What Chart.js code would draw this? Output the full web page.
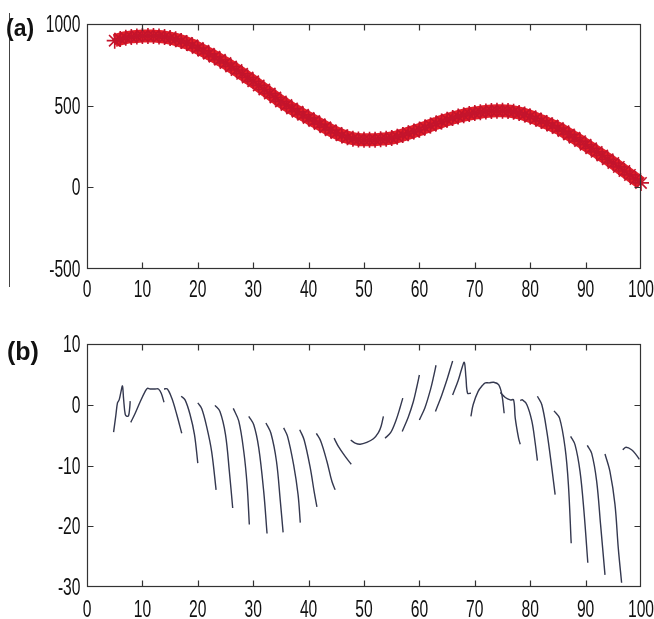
<!DOCTYPE html>
<html><head><meta charset="utf-8">
<script src="https://cdn.jsdelivr.net/npm/chart.js@4.4.1/dist/chart.umd.min.js"></script>
<style>
html,body{margin:0;padding:0;background:#fff;width:654px;height:619px;overflow:hidden;position:relative;}
#ca{position:absolute;left:0;top:0;}
#cb{position:absolute;left:0;top:320px;}
.lab{position:absolute;font-family:"Liberation Sans",Arial,sans-serif;font-weight:bold;line-height:1;color:#111;}
#vline{position:absolute;left:9px;top:13px;width:1px;height:274px;background:#444;}
</style></head><body>
<div id="vline"></div>
<canvas id="ca" width="654" height="310"></canvas>
<canvas id="cb" width="654" height="299"></canvas>
<div class="lab" style="left:6px;top:17px;font-size:23px">(a)</div>
<div class="lab" style="left:7px;top:339px;font-size:25px">(b)</div>
<script>
// ---------- Panel (a): estimated trajectory ----------
const xA = [5,6,7,8,9,10,11,12,13,14,15,16,17,18,19,20,21,22,23,24,25,26,27,28,29,30,
  31,32,33,34,35,36,37,38,39,40,41,42,43,44,45,46,47,48,49,50,51,52,53,54,55,56,57,58,59,60,
  61,62,63,64,65,66,67,68,69,70,71,72,73,74,75,76,77,78,79,80,81,82,83,84,85,86,87,88,89,90,
  91,92,93,94,95,96,97,98,99,100];
const yA = [898,908,916,921,924,926,927,926,924,920,914,906,896,884,870,853,836,818,800,781,761,
  740,718,695,672,649,624,599,574,550,526,504,483,463,444,425,406,387,368,350,333,318,306,298,293,
  291,291,292,295,298,302,310,320,331,342,353,366,379,391,403,414,424,434,442,449,455,460,464,467,
  469,469,467,462,455,446,434,421,407,393,378,363,344,324,304,283,261,239,217,195,172,149,125,100,
  76,51,27];
const xTicksA = [0,10,20,30,40,50,60,70,80,90,100];
const yTicksA = [-500,0,500,1000];

// ---------- Panel (b): error segments ----------
const segX = [
  [4.8,5.2,5.5,5.8,6.1,6.4,6.6,6.9,7.2,7.5,7.7,7.8],
  [7.9,8.7,9.6,10.5,10.9,11.4,12.3,12.9,13.4,13.9],
  [13.9,14.5,15.3,16.2,17.1],
  [17.0,17.7,18.6,19.4,20.0],
  [20.0,20.7,21.6,22.5,23.3],
  [23.1,24.0,25.0,25.7,26.3],
  [26.4,27.4,28.3,28.9,29.3],
  [29.2,30.1,31.0,31.9,32.5],
  [32.3,33.2,34.2,34.9,35.4],
  [35.5,36.2,37.3,38.1,38.5],
  [38.4,39.2,40.3,41.0,41.5],
  [41.4,42.2,43.3,44.2,44.8],
  [44.6,45.4,46.6,47.7],
  [47.6,48.4,49.3,50.5,51.7,52.6,53.1,53.5],
  [53.8,54.8,55.8,56.5,57.0],
  [56.9,58.0,58.9,59.5,60.0],
  [60.0,61.0,62.0,62.6,63.0],
  [62.9,64.0,65.0,65.6,66.0],
  [66.0,67.0,67.6,68.1,68.4,68.7,69.3],
  [69.3,69.7,70.6,71.4,71.9,72.6,73.4,74.3,74.9,75.3],
  [74.6,75.5,76.4,77.0,77.3,77.9,78.2],
  [78.2,78.6,79.4,80.3,80.9,81.3],
  [81.3,82.1,83.0,83.9,84.5],
  [84.3,85.3,86.3,86.9,87.4],
  [87.3,88.1,89.0,89.7,90.4],
  [90.3,91.1,92.0,92.7,93.5],
  [93.5,94.4,95.3,95.9,96.5],
  [96.7,97.3,98.3,99.1,99.7]
];
const segY = [
  [-4.5,-1.8,0.3,0.8,2.0,3.1,1.0,-1.6,-1.9,-1.8,-0.6,0.6],
  [-2.9,-1.4,0.5,2.2,2.7,2.6,2.6,2.6,1.9,0.4],
  [2.6,2.6,1.1,-1.6,-4.7],
  [1.4,0.8,-1.6,-4.9,-9.6],
  [0.3,-0.6,-3.6,-7.7,-14.0],
  [-0.1,-1.1,-4.9,-11.0,-17.0],
  [-0.6,-2.7,-7.7,-13.2,-19.7],
  [-1.9,-3.3,-7.1,-14.3,-21.2],
  [-3.0,-4.7,-9.3,-15.9,-21.0],
  [-3.8,-5.2,-9.9,-14.8,-19.4],
  [-4.1,-5.8,-10.4,-14.3,-16.8],
  [-4.7,-6.0,-9.3,-12.6,-14.0],
  [-5.5,-6.9,-8.5,-9.8],
  [-5.8,-6.3,-6.5,-6.2,-5.6,-4.6,-3.5,-1.9],
  [-5.5,-4.6,-2.5,-0.5,1.1],
  [-4.4,-2.0,0.5,2.8,4.9],
  [-2.5,-0.5,2.5,4.8,6.5],
  [-1.1,1.5,4.2,6.0,7.2],
  [1.6,4.0,5.8,7.0,4.5,1.9,1.9],
  [-1.9,0.0,2.2,3.2,3.6,3.6,3.7,3.3,1.6,-1.4],
  [2.0,1.2,0.8,0.8,-2.2,-5.5,-6.5],
  [0.7,0.8,0.0,-2.7,-6.3,-9.2],
  [1.4,0.0,-4.4,-10.4,-14.8],
  [-1.0,-2.2,-7.1,-13.2,-22.8],
  [-5.2,-6.6,-11.0,-17.5,-26.0],
  [-6.7,-8.0,-12.6,-19.7,-28.0],
  [-8.1,-11.0,-16.4,-23.6,-29.3],
  [-7.4,-7.0,-7.4,-8.2,-9.0]
];
const xTicksB = [0,10,20,30,40,50,60,70,80,90,100];
const yTicksB = [-30,-20,-10,0,10];

// ---------- frame, inward ticks and narrow tick labels (from the chart's scales) ----------
const TL = 6;
const LABEL_FONT = "23px 'Liberation Sans', Arial, sans-serif";
const SQUEEZE = 0.68;
const boxTicks = {
  id:'boxTicks',
  afterDraw(chart, args, opts){
    const {ctx, chartArea:a, scales:{x,y}} = chart;
    ctx.save();
    ctx.strokeStyle='#333'; ctx.lineWidth=1.2;
    const L=Math.round(a.left)+0.5, R=Math.round(a.right)-0.5, T=Math.round(a.top)+0.5, B=Math.round(a.bottom)-0.5;
    ctx.strokeRect(L,T,R-L,B-T);
    ctx.beginPath();
    x.ticks.forEach(t=>{
      const px=Math.round(x.getPixelForValue(t.value))+0.5;
      if(px<=L+1||px>=R-1) return;
      ctx.moveTo(px,B); ctx.lineTo(px,B-TL);
      ctx.moveTo(px,T); ctx.lineTo(px,T+TL);
    });
    y.ticks.forEach(t=>{
      const py=Math.round(y.getPixelForValue(t.value))+0.5;
      if(py<=T+1||py>=B-1) return;
      ctx.moveTo(L,py); ctx.lineTo(L+TL,py);
      ctx.moveTo(R,py); ctx.lineTo(R-TL,py);
    });
    ctx.stroke();
    // tick labels
    ctx.fillStyle='#111';
    ctx.font=LABEL_FONT;
    ctx.textBaseline='alphabetic';
    x.ticks.forEach(t=>{
      const px=x.getPixelForValue(t.value);
      ctx.save();
      ctx.translate(px, B + opts.xOff);
      ctx.scale(SQUEEZE,1);
      ctx.textAlign='center';
      ctx.fillText(String(t.value),0,0);
      ctx.restore();
    });
    y.ticks.forEach(t=>{
      const py=y.getPixelForValue(t.value);
      ctx.save();
      ctx.translate(L - 7, py + 8);
      ctx.scale(SQUEEZE,1);
      ctx.textAlign='right';
      ctx.fillText(String(t.value),0,0);
      ctx.restore();
    });
    ctx.restore();
  }
};
function scalesFor(xt, yt){
  return {
    x:{type:'linear', min:xt[0], max:xt[xt.length-1],
      afterBuildTicks(s){ s.ticks = xt.map(v=>({value:v})); },
      ticks:{display:false},
      grid:{display:false, drawTicks:false}, border:{display:false},
      afterFit(s){ s.height=30; s.paddingLeft=0; s.paddingRight=0; }},
    y:{type:'linear', min:yt[0], max:yt[yt.length-1],
      afterBuildTicks(s){ s.ticks = yt.map(v=>({value:v})); },
      ticks:{display:false},
      grid:{display:false, drawTicks:false}, border:{display:false},
      afterFit(s){ s.width=87; s.paddingTop=0; s.paddingBottom=0; }}
  };
}

new Chart(document.getElementById('ca'), {
  type:'line',
  data:{datasets:[{
    data: xA.map((x,i)=>({x, y:yA[i]})),
    borderColor:'#e41e28', borderWidth:13, tension:0.4, fill:false,
    pointStyle:'star', pointRadius:8, pointBorderColor:'#c4142c', pointBorderWidth:1.6,
    pointBackgroundColor:'#e41e28', clip:false
  }]},
  options:{responsive:false, animation:false,
    layout:{padding:{left:0, right:13, top:24, bottom:11}},
    plugins:{legend:{display:false}, tooltip:{enabled:false}, boxTicks:{xOff:28}},
    scales:scalesFor(xTicksA, yTicksA)
  },
  plugins:[boxTicks]
});

new Chart(document.getElementById('cb'), {
  type:'line',
  data:{datasets: segX.map((xs,k)=>({
    data: xs.map((x,i)=>({x, y:segY[k][i]})),
    borderColor:'#34384f', borderWidth:1.4, tension:0.35, fill:false, pointRadius:0
  }))},
  options:{responsive:false, animation:false,
    layout:{padding:{left:0, right:13, top:24, bottom:2}},
    plugins:{legend:{display:false}, tooltip:{enabled:false}, boxTicks:{xOff:30}},
    scales:scalesFor(xTicksB, yTicksB)
  },
  plugins:[boxTicks]
});
</script>
</body></html>
